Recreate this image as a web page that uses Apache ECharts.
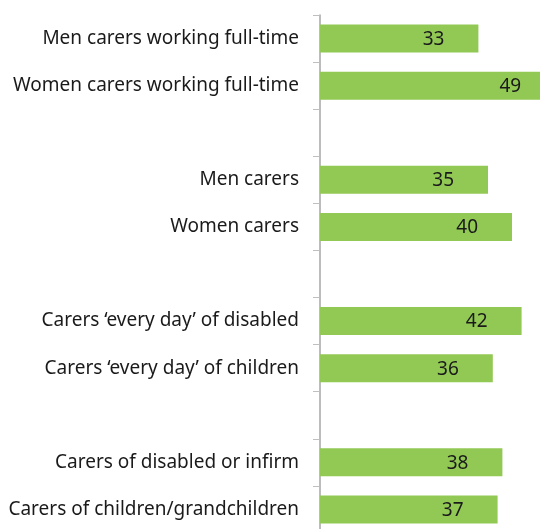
<!DOCTYPE html>
<html>
<head>
<meta charset="utf-8">
<script src="https://cdn.jsdelivr.net/npm/echarts@6/dist/echarts.min.js"></script>
<style>
  html, body { margin: 0; padding: 0; background: #ffffff; }
  #chart { width: 540px; height: 529px; }
</style>
</head>
<body>
<div id="chart"></div>
<script>
// Carer groups, top to bottom; empty strings are spacer rows between groups
const categories = [
  'Men carers working full-time',
  'Women carers working full-time',
  '',
  'Men carers',
  'Women carers',
  '',
  'Carers \u2018every day\u2019 of disabled',
  'Carers \u2018every day\u2019 of children',
  '',
  'Carers of disabled or infirm',
  'Carers of children/grandchildren'
];
const values = [33, 49, null, 35, 40, null, 42, 36, null, 38, 37];

const FONT = '"Noto Sans", sans-serif';
const chart = echarts.init(document.getElementById('chart'), null, { renderer: 'canvas' });

chart.setOption({
  animation: false,
  backgroundColor: '#ffffff',
  textStyle: { fontFamily: FONT },
  grid: {
    left: 320, top: 15, width: 240, height: 518,
    containLabel: false,
    outerBoundsMode: 'none'
  },
  xAxis: {
    type: 'value',
    min: 0,
    max: 50,
    show: false
  },
  yAxis: {
    type: 'category',
    data: categories,
    inverse: true,
    axisLine: { show: true, lineStyle: { color: '#a6a6a6', width: 1.5 } },
    axisTick: { show: true, length: 7, lineStyle: { color: '#bfbfbf', width: 1 } },
    axisLabel: {
      color: '#1a1a1a', fontSize: 19, margin: 21, fontFamily: FONT,
      padding: [2, 0, 0, 0]
    }
  },
  series: [{
    type: 'bar',
    data: values.map(v => (v === null ? '-' : v)),
    barWidth: 28,
    itemStyle: { color: '#92c955' },
    label: {
      show: true,
      position: 'insideRight',
      distance: 34,
      offset: [0, 1],
      color: '#1a1a1a',
      fontSize: 19,
      fontFamily: FONT
    }
  }]
});
</script>
</body>
</html>
